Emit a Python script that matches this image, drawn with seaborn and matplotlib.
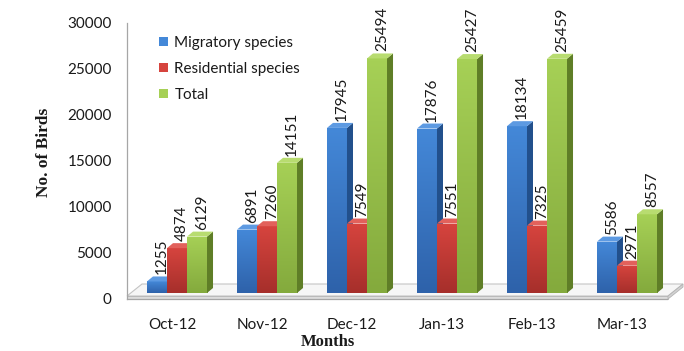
import numpy as np
import pandas as pd
import seaborn as sns
import matplotlib
matplotlib.use("Agg")
import matplotlib.pyplot as plt
from matplotlib.patches import Polygon, Patch
from matplotlib.colors import LinearSegmentedColormap

# ---- data -------------------------------------------------------------
months = ["Oct-12", "Nov-12", "Dec-12", "Jan-13", "Feb-13", "Mar-13"]
migratory = [1255, 6891, 17945, 17876, 18134, 5586]
residential = [4874, 7260, 7549, 7551, 7325, 2971]
total = [6129, 14151, 25494, 25427, 25459, 8557]
series_names = ["Migratory species", "Residential species", "Total"]
y_ticks = [0, 5000, 10000, 15000, 20000, 25000, 30000]

# ---- style ------------------------------------------------------------
sns.set_style("white")
plt.rcParams["font.family"] = ["Lato", "DejaVu Sans"]
plt.rcParams["text.color"] = "#1a1a1a"

# colours per series: (front top, front bottom, side, top face)
shades = {
    "Migratory species": ("#4488d8", "#2e62aa", "#22508c", "#5d9ae2"),
    "Residential species": ("#d6443e", "#a62f2b", "#8a2623", "#e2615b"),
    "Total": ("#a6d056", "#84aa3d", "#5f7e27", "#b8dc70"),
}

W, H = 684, 351
fig = plt.figure(figsize=(W / 100, H / 100), dpi=100)
ax = fig.add_axes([127 / W, 1 - 299 / H, 540 / W, 276 / H])


def P(x, y):
    """Pixel position (from top-left) to figure fraction."""
    return (x / W, 1 - y / H)


df = pd.DataFrame({
    "Month": months * 3,
    "Birds": migratory + residential + total,
    "Series": np.repeat(series_names, len(months)),
})
palette = {k: v[0] for k, v in shades.items()}
sns.barplot(data=df, x="Month", y="Birds", hue="Series", order=months,
            hue_order=series_names, palette=palette, width=0.667, gap=0,
            dodge=True, legend=False, errorbar=None, saturation=1, ax=ax)

# seaborn adds the bars hue level by hue level
raw_bars = list(ax.patches)
bar_series = []
for name in series_names:
    bar_series += [name] * len(months)
bars = sorted(zip(raw_bars, bar_series), key=lambda t: t[0].get_x())

ax.set_xlim(-0.5, 5.5)
ax.set_ylim(0, 30000)

# pixel -> data conversions
px_x = 6 / 540.0
px_y = 30000 / 276.0

# floor slab under the columns
floor_top = [P(127, 296), P(142, 284), P(683, 284), P(668, 296)]
ax.add_patch(Polygon(floor_top, closed=True, transform=fig.transFigure,
                     facecolor="#f6f6f6", edgecolor="#c4c4c4", lw=0.8,
                     clip_on=False, zorder=1))
slab = [P(127, 296), P(668, 296), P(668, 299), P(127, 299)]
ax.add_patch(Polygon(slab, closed=True, transform=fig.transFigure,
                     facecolor="#dcdcdc", edgecolor="#b4b4b4", lw=0.6,
                     clip_on=False, zorder=1))
side_slab = [P(668, 296), P(683, 284), P(683, 287), P(668, 299)]
ax.add_patch(Polygon(side_slab, closed=True, transform=fig.transFigure,
                     facecolor="#d2d2d2", edgecolor="#b4b4b4", lw=0.6,
                     clip_on=False, zorder=1))

# 3-D look for each column
shift = 5 * px_x
y_off = 6 * px_y
dx, dy = 6 * px_x, 5 * px_y
grad = np.linspace(0, 1, 64).reshape(-1, 1)

for i, (p, name) in enumerate(bars):
    x0 = p.get_x() + shift
    w = p.get_width()
    h = p.get_height()
    c_top, c_bot, c_side, c_cap = shades[name]
    z = 3 + i * 0.01
    p.set_x(x0)
    p.set_y(y_off)
    p.set_facecolor("none")
    p.set_edgecolor("none")
    top = y_off + h
    x1 = x0 + w
    cmap = LinearSegmentedColormap.from_list("g", [c_bot, c_top])
    im = ax.imshow(grad, extent=(x0, x1, y_off, top), origin="lower",
                   aspect="auto", cmap=cmap, zorder=z, interpolation="bilinear")
    im.set_clip_path(p)
    ax.add_patch(Polygon([(x1, y_off), (x1 + dx, y_off + dy),
                          (x1 + dx, top + dy), (x1, top)],
                         closed=True, facecolor=c_side, edgecolor="none",
                         zorder=z + 0.001))
    ax.add_patch(Polygon([(x0, top), (x0 + dx, top + dy),
                          (x1 + dx, top + dy), (x1, top)],
                         closed=True, facecolor=c_cap, edgecolor="none",
                         zorder=z + 0.002))
    ax.annotate(f"{int(round(h))}", (x0 + w / 2, top), xytext=(5, 7),
                textcoords="offset pixels", rotation=90, ha="center",
                va="bottom", fontsize=11, zorder=10)

ax.set_xlim(-0.5, 5.5)
ax.set_ylim(0, 30000)
ax.set_aspect("auto")

# axes, ticks and labels
for side in ["top", "right"]:
    ax.spines[side].set_visible(False)
for side in ["left", "bottom"]:
    ax.spines[side].set_color("#a6a6a6")
    ax.spines[side].set_linewidth(0.9)

ax.set_yticks(y_ticks)
ax.set_yticklabels([str(t) for t in y_ticks])
ax.tick_params(axis="y", direction="out", length=5, width=0.9,
               color="#a6a6a6", pad=6, labelsize=11, labelcolor="#1a1a1a")
ax.set_xticks(np.arange(-0.5, 6.0, 1.0))
ax.set_xticklabels([])
ax.set_xticks(np.arange(len(months)), minor=True)
ax.set_xticklabels(months, minor=True)
ax.tick_params(axis="x", which="major", direction="out", length=5,
               width=0.9, color="#a6a6a6")
ax.tick_params(axis="x", which="minor", length=0, pad=13.5, labelsize=11,
               labelcolor="#1a1a1a")
ax.set_xlabel("")
ax.set_ylabel("")

fig.text(*P(44, 152), "No. of Birds", rotation=90, ha="center", va="center",
         family="Liberation Serif", fontweight="bold", fontsize=12.5)
fig.text(*P(328, 342), "Months", ha="center", va="center",
         family="Liberation Serif", fontweight="bold", fontsize=12)

handles = [Patch(facecolor=shades[n][0], edgecolor="none") for n in series_names]
ax.legend(handles=handles, labels=series_names, loc="upper left",
          bbox_to_anchor=P(159, 36), bbox_transform=fig.transFigure,
          frameon=False, fontsize=11, handlelength=0.6, handleheight=0.6,
          handletextpad=0.4, labelspacing=0.78, borderpad=0, borderaxespad=0)

fig.savefig("out.png", dpi=100)
